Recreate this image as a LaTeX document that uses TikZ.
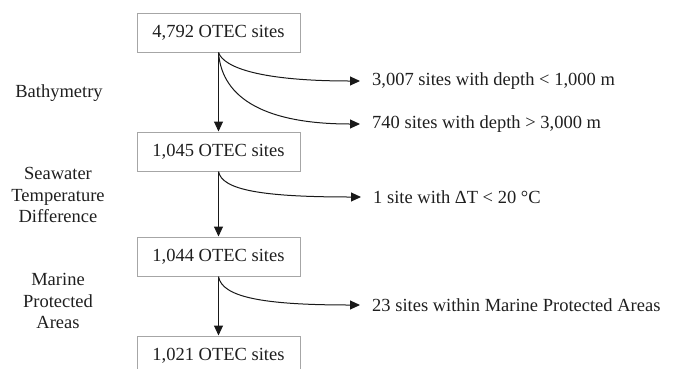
\documentclass[tikz,border=0pt]{standalone}
\usepackage{fontspec}
\setmainfont{Liberation Serif}
\usetikzlibrary{arrows.meta}
\begin{document}
\begin{tikzpicture}[x=1pt,y=-1pt,
  every node/.style={font=\fontsize{18.5}{21.5}\selectfont, text=black!88},
  sitebox/.style={draw=black!35, line width=1pt, minimum width=163pt, minimum height=39pt, inner sep=0pt},
  outtext/.style={anchor=west, inner xsep=12pt, inner ysep=0pt},
  crit/.style={align=center, inner sep=0pt},
  flow/.style={draw=black!90, line width=1pt, -{Triangle[length=10pt,width=9pt]}}
]
\useasboundingbox (0,0) rectangle (683,368);
% boxes
\node[sitebox] (b1) at (218.5,32.5) {4,792 OTEC sites};
\node[sitebox] (b2) at (218.5,151.5) {1,045 OTEC sites};
\node[sitebox] (b3) at (218.5,256.5) {1,044 OTEC sites};
\node[sitebox] (b4) at (218.5,355.5) {1,021 OTEC sites};
% criteria labels
\node[crit] (c1) at (59,93) {Bathymetry};
\node[crit] (c2) at (58,195) {Seawater\\Temperature\\Difference};
\node[crit] (c3) at (58,301) {Marine\\Protected\\Areas};
% removed texts
\node[outtext] (t1) at (360,81) {3,007 sites with depth < 1,000 m};
\node[outtext] (t2) at (360,124) {740 sites with depth > 3,000 m};
\node[outtext] (t3) at (361,197) {1 site with ΔT < 20 °C};
\node[outtext] (t4) at (360,305) {23 sites within Marine Protected Areas};
% vertical flow
\draw[flow] (b1.south) -- (b2.north);
\draw[flow] (b2.south) -- (b3.north);
\draw[flow] (b3.south) -- (b4.north);
% branches
\draw[flow] (b1.south) .. controls (224,68) and (262,81) .. (t1.west);
\draw[flow] (b1.south) .. controls (222,100) and (268,124) .. (t2.west);
\draw[flow] (b2.south) .. controls (222,190) and (262,197) .. (t3.west);
\draw[flow] (b3.south) .. controls (222,297) and (262,305) .. (t4.west);
\end{tikzpicture}
\end{document}
